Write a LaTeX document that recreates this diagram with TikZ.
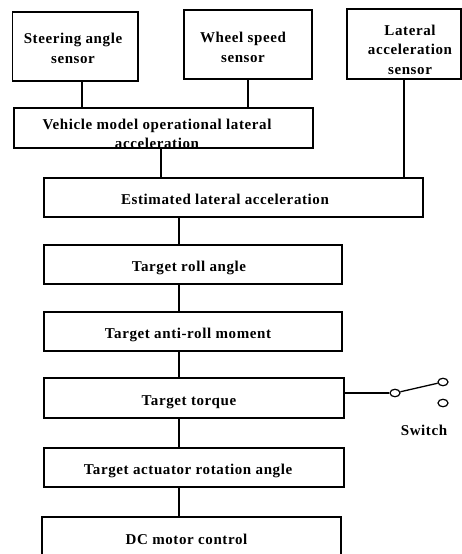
\documentclass[tikz,border=0pt]{standalone}
\usepackage{fontspec}
\newfontfamily\bfont{Liberation Serif}[LetterSpace=4.0]
\usetikzlibrary{calc,shapes.geometric}
\begin{document}
\begin{tikzpicture}[x=1pt,y=-1pt,line width=1.6pt,
  lbl/.style={font=\bfont\bfseries\fontsize{15}{19.5}\selectfont},
  box/.style={draw,inner sep=0pt,lbl},
  one/.style={text height=14.4pt,text depth=0pt},
  txt/.style={inner sep=0pt,anchor=north,align=center,lbl},
  sw/.style={draw,ellipse,minimum width=10pt,minimum height=7.5pt,inner sep=0pt,line width=1.2pt}]
\useasboundingbox (0,0) rectangle (462,554);
% sensors
\node[box,minimum width=125.3pt,minimum height=69pt] (sas) at (75.3,46.5) {};
\node[txt] (sast) at (73,32.4) {Steering angle\\sensor};
\node[box,minimum width=128pt,minimum height=69pt] (wss) at (248,44.5) {};
\node[txt] (wsst) at (243,31.5) {Wheel speed\\sensor};
\node[box,minimum width=114pt,minimum height=70pt] (las) at (404,44) {};
\node[txt] (last) at (410,24) {Lateral\\acceleration\\sensor};
% vehicle model
\node[box,minimum width=299pt,minimum height=40pt] (vm) at (163.5,128) {};
\node[txt] (vmt) at (157,118) {Vehicle model operational lateral\\acceleration};
% chain
\node[box,one,minimum width=379pt,minimum height=39pt] (ela) at (233.5,197.5) {Estimated lateral acceleration\kern17pt};
\node[box,one,minimum width=298pt,minimum height=39pt] (tra) at (193,264.5) {Target roll angle\kern8pt};
\node[box,one,minimum width=298pt,minimum height=39pt] (tam) at (193,331.5) {Target anti-roll moment\kern10pt};
\node[box,one,minimum width=300pt,minimum height=40pt] (tt) at (194,398) {Target torque\kern10pt};
\node[box,one,minimum width=300pt,minimum height=39pt] (tara) at (194,467.5) {Target actuator rotation angle\kern12pt};
\node[box,one,minimum width=299pt,minimum height=40pt] (dc) at (191.5,537) {DC motor control\kern10pt};
% switch
\node[sw] (c1) at (395,393) {};
\node[sw] (c2) at (443,382) {};
\node[sw] (c3) at (443,403) {};
\node[lbl,anchor=base,inner sep=0pt] (swt) at (424,435) {Switch};
% connectors
\coordinate (s1) at ($(sas.south)+(6.7,0)$);
\draw (s1) -- (s1 |- vm.north);
\draw (wss.south) -- (wss.south |- vm.north);
\coordinate (v1) at ($(vm.south)+(-2.5,0)$);
\draw (v1) -- (v1 |- ela.north);
\draw (las.south) -- (las.south |- ela.north);
\coordinate (sp) at (179,0);
\draw (ela.south -| sp) -- (tra.north -| sp);
\draw (tra.south -| sp) -- (tam.north -| sp);
\draw (tam.south -| sp) -- (tt.north -| sp);
\draw (tt.south -| sp) -- (tara.north -| sp);
\draw (tara.south -| sp) -- (dc.north -| sp);
\draw[line width=1.3pt] (c1.west) -- (c1.west -| tt.east);
\draw[line width=1.3pt] (c1) -- (c2);
\end{tikzpicture}
\end{document}
